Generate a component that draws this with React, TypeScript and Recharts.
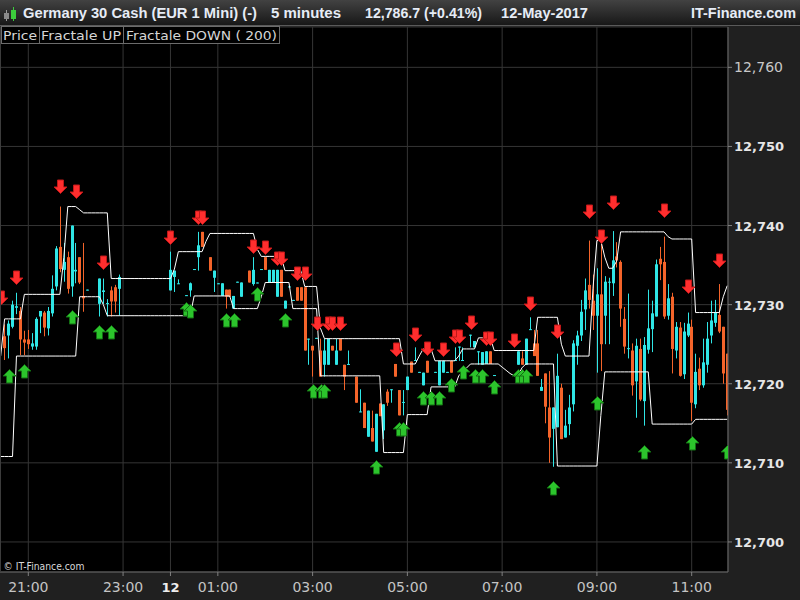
import React from 'react'
import { Bar, CartesianGrid, ComposedChart, Line, Scatter, XAxis, YAxis } from 'recharts'

const FONT = '"DejaVu Sans", Verdana, sans-serif'
const TITLE_FONT = '"Liberation Sans", Arial, sans-serif'

// bar index 0 = 20:25, one bar per 5 minutes
const BAR_DOMAIN: [number, number] = [-0.17, 184.2]
const PRICE_DOMAIN: [number, number] = [12696.2, 12765.1]

const timeTicks = [7, 31, 43, 55, 79, 103, 127, 151, 175]
const timeLabels = ['21:00', '23:00', '12', '01:00', '03:00', '05:00', '07:00', '09:00', '11:00']
const priceTicks = [12700, 12710, 12720, 12730, 12740, 12750, 12760]

// bars that traded (the night has holes)
const candleIdx = [
  1, 2, 3, 4, 5, 6, 7, 8, 9, 10,
  11, 12, 13, 14, 15, 16, 17, 18, 19, 20,
  21, 22, 25, 26, 27, 28, 29, 30, 43, 44,
  45, 47, 48, 49, 50, 51, 53, 54, 55, 56,
  57, 58, 59, 60, 61, 63, 64, 65, 66, 67,
  68, 69, 70, 71, 72, 73, 74, 75, 76, 77,
  78, 79, 80, 81, 82, 83, 84, 85, 86, 87,
  88, 90, 91, 92, 93, 94, 95, 96, 97, 98,
  99, 100, 101, 102, 103, 104, 105, 106, 107, 108,
  110, 111, 112, 113, 114, 115, 116, 117, 119, 120,
  121, 122, 123, 124, 125, 131, 132, 133, 134, 135,
  136, 137, 138, 139, 140, 141, 142, 143, 144, 145,
  146, 147, 148, 149, 150, 151, 152, 153, 154, 155,
  156, 157, 158, 159, 160, 161, 162, 163, 164, 165,
  166, 167, 168, 169, 170, 171, 172, 173, 174, 175,
  176, 177, 178, 179, 180, 181, 182, 183, 184,
]

const opens = [
  12726, 12726.1, 12727.2, 12729.6, 12729.2, 12725.6, 12725.6, 12724.7, 12724.7, 12728.5,
  12729, 12727, 12728.9, 12732.3, 12737.3, 12734.4, 12736, 12732.3, 12734.2, 12736,
  12731.1, 12731.8, 12730.1, 12731.6, 12730.1, 12731.8, 12732.2, 12732, 12731.8, 12733.5,
  12732.6, 12731.1, 12731.8, 12734.4, 12736, 12739.2, 12736, 12733.4, 12732.6, 12731.1,
  12731.9, 12731.9, 12729.5, 12732.8, 12731, 12734.3, 12732.6, 12732.7, 12734.4, 12736,
  12732.8, 12732.8, 12731, 12734.4, 12729.5, 12732.2, 12730.5, 12732.2, 12732.2, 12732.2,
  12725.6, 12724.8, 12725.7, 12724.2, 12722.4, 12722.4, 12724.8, 12722.4, 12725.7, 12722.4,
  12722.4, 12720.9, 12716.4, 12717.6, 12713.3, 12714.4, 12711.4, 12717.5, 12714.1, 12719,
  12719.2, 12722.5, 12719.2, 12717.6, 12719.2, 12722.8, 12722.9, 12721.4, 12719.8, 12722.9,
  12721.4, 12719.8, 12721.4, 12721.4, 12722.9, 12722.9, 12724.6, 12722.9, 12726.1, 12724.6,
  12724, 12722.4, 12722.5, 12724.1, 12721, 12722.4, 12723.2, 12722.4, 12726.8, 12725.1,
  12725.1, 12719.1, 12721.3, 12717, 12714.3, 12714.5, 12719.5, 12713.2, 12714.9, 12717.4,
  12724.8, 12726.1, 12729.4, 12732.5, 12730.5, 12728.6, 12731.3, 12728.6, 12732.8, 12732.7,
  12736.1, 12735.4, 12728.2, 12724.4, 12724.2, 12720.3, 12724.4, 12717.8, 12724.3, 12726.9,
  12728.5, 12735.8, 12735.4, 12728.6, 12731, 12724.2, 12727.1, 12721.2, 12726.1, 12727.2,
  12717.4, 12721.9, 12719.8, 12722.4, 12726.1, 12727.7, 12728.7, 12727.2, 12723.8,
]

const highs = [
  12727.5, 12728, 12730.5, 12731.5, 12729.7, 12726.7, 12726.8, 12726.4, 12728.4, 12729.2,
  12729.2, 12729.7, 12733.7, 12737.4, 12742.4, 12737.8, 12736.7, 12740, 12737.8, 12736,
  12737.8, 12731.8, 12733.3, 12733.3, 12730.7, 12732.3, 12732.5, 12733.8, 12736.7, 12734.3,
  12733.2, 12731.1, 12732.8, 12734.4, 12739.2, 12739.2, 12736, 12734.3, 12732.6, 12732.7,
  12731.9, 12731.9, 12731.1, 12732.8, 12732.8, 12734.3, 12736, 12732.7, 12734.4, 12736,
  12734.4, 12734.4, 12734.4, 12734.4, 12730.5, 12732.2, 12730.5, 12732.2, 12732.2, 12732.2,
  12725.7, 12724.8, 12725.7, 12725.7, 12725.7, 12725.7, 12724.8, 12725.7, 12725.7, 12722.4,
  12724.2, 12720.9, 12719.3, 12717.6, 12716.6, 12716.6, 12716.2, 12717.5, 12717.4, 12719.3,
  12719.2, 12722.5, 12719.2, 12719.2, 12720.9, 12722.8, 12724.6, 12721.4, 12721.4, 12722.9,
  12721.4, 12722.9, 12722.9, 12721.4, 12722.9, 12724.6, 12724.6, 12724.6, 12726.1, 12725.4,
  12724, 12724, 12724.1, 12724.1, 12721, 12724.1, 12724.1, 12725.7, 12728.4, 12726.8,
  12726.8, 12720.6, 12721.3, 12721.6, 12717, 12723.8, 12720, 12716.7, 12718.6, 12725.5,
  12726.7, 12730.6, 12733.3, 12738.1, 12733.8, 12734.6, 12738.1, 12733.6, 12733.4, 12739.3,
  12737.9, 12735.6, 12729.7, 12731.4, 12725.1, 12725.7, 12725.7, 12725.9, 12731.9, 12730.5,
  12735.7, 12737.3, 12738.6, 12732.6, 12731.5, 12727.8, 12727.8, 12727.7, 12729, 12728.1,
  12723.8, 12723.3, 12725.7, 12727.8, 12730.5, 12730.6, 12732.6, 12727.2, 12723.8,
]

const lows = [
  12723, 12723.2, 12727, 12728.8, 12723.6, 12723.6, 12724.4, 12724.3, 12724.3, 12726.4,
  12726, 12726.1, 12728.5, 12731.8, 12734.1, 12732.9, 12731.4, 12731, 12732.7, 12732.6,
  12729.1, 12731.8, 12728.5, 12730.1, 12728.5, 12728.5, 12729, 12728.6, 12731.8, 12731.6,
  12732.6, 12731.1, 12731, 12734.4, 12734.3, 12737.3, 12734.3, 12731.6, 12732.6, 12731.1,
  12729.5, 12731, 12729.5, 12732.8, 12731, 12732.8, 12732.4, 12732.7, 12734.4, 12734.4,
  12732.8, 12732.8, 12731, 12731, 12729.5, 12732.2, 12730.5, 12730.5, 12730.5, 12724.2,
  12722.4, 12720.9, 12725.7, 12720.9, 12720.9, 12722.4, 12724.2, 12722.4, 12724.2, 12719.2,
  12722.4, 12717.6, 12716.4, 12714.4, 12713.3, 12712.7, 12711.4, 12715.9, 12713, 12717.2,
  12717.6, 12720.9, 12716, 12716, 12719.2, 12721.4, 12722.9, 12721.4, 12719.8, 12721.4,
  12721.4, 12719.8, 12721.4, 12721.4, 12721.4, 12722.9, 12722.9, 12722.9, 12724.6, 12724.6,
  12722.4, 12722.4, 12722.5, 12722.5, 12721, 12722.4, 12722.4, 12722.4, 12726.8, 12723.5,
  12721, 12719.1, 12715, 12710, 12709.5, 12714.5, 12713, 12713.2, 12713.5, 12716.5,
  12722.4, 12725.4, 12726.8, 12729.5, 12726.8, 12721.4, 12721.6, 12725, 12725, 12731.1,
  12734.7, 12727.2, 12723.8, 12723.2, 12718.5, 12715.7, 12717.8, 12714.7, 12723.8, 12724,
  12728.5, 12733.1, 12728.2, 12728.1, 12721.3, 12723.2, 12720.9, 12720.6, 12725.9, 12715.3,
  12716.9, 12719.2, 12719.5, 12721.4, 12725.1, 12727.2, 12726.4, 12720, 12716,
]

const closes = [
  12724.5, 12727.6, 12730, 12729.8, 12725.6, 12725.2, 12725, 12725.1, 12728.2, 12729.2,
  12727.1, 12729.2, 12732, 12737.1, 12734.5, 12735.4, 12732, 12740, 12734.4, 12732.8,
  12730.8, 12731.9, 12733.3, 12731.8, 12730.2, 12730.4, 12730.4, 12733.5, 12734.4, 12734.3,
  12732.7, 12731.2, 12732.7, 12734.5, 12737.5, 12737.3, 12734.3, 12734.3, 12732.7, 12732.7,
  12731, 12731, 12731.1, 12732.9, 12732.8, 12732.8, 12734.4, 12732.8, 12734.5, 12734.4,
  12734.4, 12734.4, 12734.4, 12731, 12730.5, 12732.3, 12730.6, 12730.5, 12730.5, 12724.2,
  12725.7, 12724.2, 12725.8, 12720.9, 12724.2, 12725.7, 12724.2, 12724.2, 12724.2, 12720.9,
  12722.5, 12717.6, 12716.5, 12714.4, 12716.6, 12712.7, 12716.2, 12715.9, 12717.4, 12717.6,
  12719.3, 12720.9, 12716, 12717.7, 12720.9, 12721.4, 12723, 12721.5, 12721.4, 12721.4,
  12721.5, 12722.9, 12722.9, 12721.5, 12721.4, 12723, 12724.7, 12723, 12726.2, 12725.4,
  12724.1, 12724, 12724.1, 12722.5, 12721.1, 12724.1, 12722.4, 12725.7, 12726.9, 12723.5,
  12721, 12719.6, 12717.1, 12713.2, 12717, 12721, 12713, 12714.7, 12717, 12725.1,
  12726.1, 12729.1, 12731.8, 12730.6, 12728.6, 12731.3, 12725, 12732.9, 12732.9, 12735.6,
  12735.6, 12729.5, 12724.7, 12724.5, 12719.8, 12724.8, 12718, 12724.9, 12727, 12728.9,
  12735.1, 12735.1, 12728.5, 12730.8, 12724.4, 12727.2, 12721, 12726.6, 12727.6, 12717.6,
  12721.5, 12719.8, 12722.7, 12725.7, 12728, 12729, 12726.6, 12721.3, 12716.7,
]

// "Fractale UP" / "Fractale DOWN ( 200)" envelopes, one value per bar 0..184
const upperBand = [
  12723.5, 12728.2, 12728.2, 12728.2, 12728.2, 12728.2, 12731.3, 12731.3, 12731.3, 12731.3,
  12731.3, 12731.3, 12731.3, 12731.3, 12731.3, 12731.3, 12736, 12742.4, 12742.4, 12742.4,
  12742, 12741.6, 12741.6, 12741.6, 12741.6, 12741.6, 12741.6, 12741.6, 12733.3, 12733.3,
  12733.3, 12733.3, 12733.3, 12733.3, 12733.3, 12733.3, 12733.3, 12733.3, 12733.3, 12733.3,
  12733.3, 12733.3, 12733.3, 12733.3, 12734.5, 12736.7, 12736.7, 12736.7, 12736.7, 12736.7,
  12736.7, 12736.7, 12738, 12739, 12739, 12739, 12739, 12739, 12739, 12739,
  12739, 12739, 12739, 12739, 12739, 12737, 12736.1, 12736.1, 12736.1, 12736.1,
  12736.1, 12736.1, 12734.3, 12734.3, 12734.3, 12734.3, 12734.3, 12732.3, 12732.3, 12732.3,
  12732.3, 12727, 12725.7, 12725.7, 12725.7, 12725.7, 12725.7, 12725.7, 12725.7, 12725.7,
  12725.7, 12725.7, 12725.7, 12725.7, 12725.7, 12725.7, 12725.7, 12725.7, 12725.7, 12725.7,
  12725.7, 12725.7, 12722.5, 12722.5, 12722.5, 12722.5, 12723.5, 12724.4, 12724.4, 12724.4,
  12722.9, 12722.9, 12722.9, 12722.9, 12722.9, 12722.9, 12723.5, 12724.4, 12724.4, 12724.4,
  12724.4, 12725.8, 12725.8, 12725.8, 12725.8, 12724.2, 12724.2, 12724.2, 12724.2, 12724.2,
  12724.2, 12724.2, 12724.2, 12724.2, 12724.2, 12724.2, 12728.4, 12728.4, 12728.4, 12728.4,
  12728.4, 12728.4, 12725, 12723.5, 12723.5, 12723.5, 12723.5, 12723.5, 12723.5, 12723.5,
  12732, 12738.1, 12738.1, 12736, 12734.6, 12734.6, 12735.5, 12739.2, 12739.2, 12739.2,
  12739.2, 12739.2, 12739.2, 12739.2, 12739.2, 12739.2, 12739.2, 12739.2, 12739.2, 12738.6,
  12738.3, 12738.3, 12738.3, 12738.3, 12738.3, 12738.3, 12729, 12729, 12729, 12729,
  12729, 12729, 12729, 12731, 12732.4,
]

const lowerBand = [
  12710.8, 12710.8, 12710.8, 12710.8, 12723.5, 12723.5, 12723.5, 12723.5, 12723.5, 12723.5,
  12723.5, 12723.5, 12723.5, 12723.5, 12723.5, 12723.5, 12723.5, 12723.5, 12723.5, 12723.5,
  12731, 12731, 12731, 12731, 12731, 12731, 12730, 12728.6, 12728.6, 12728.6,
  12728.6, 12728.6, 12728.6, 12728.6, 12728.6, 12728.6, 12728.6, 12728.6, 12728.6, 12728.6,
  12728.6, 12728.6, 12728.6, 12728.6, 12728.6, 12728.6, 12728.6, 12728.6, 12728.6, 12731.1,
  12731.1, 12731.1, 12731.1, 12731.1, 12731.1, 12731.1, 12731.1, 12731.1, 12731.1, 12729.5,
  12729.5, 12729.5, 12729.5, 12729.5, 12729.5, 12729.5, 12731, 12732.8, 12732.8, 12732.8,
  12732.8, 12732.8, 12732.8, 12732.8, 12729.5, 12729.5, 12729.5, 12729.5, 12729.5, 12729.5,
  12729.5, 12721, 12721, 12721, 12721, 12721, 12721, 12721, 12721, 12721,
  12721, 12721, 12721, 12721, 12721, 12721, 12721, 12711.3, 12711.3, 12711.3,
  12711.3, 12711.3, 12711.3, 12716.1, 12716.1, 12716.1, 12716.1, 12716.1, 12716.1, 12719.6,
  12719.6, 12719.6, 12719.6, 12719.6, 12719.6, 12719.6, 12721, 12721.5, 12722, 12722.5,
  12722.5, 12722.5, 12722.5, 12722.5, 12722.5, 12722.5, 12722.5, 12722.1, 12721.7, 12721.3,
  12721, 12721, 12722, 12722.5, 12722.5, 12722.5, 12722.5, 12722.5, 12722.5, 12722.5,
  12722.5, 12709.6, 12709.6, 12709.6, 12709.6, 12709.6, 12709.6, 12709.6, 12709.6, 12709.6,
  12709.6, 12709.6, 12716, 12721.5, 12721.5, 12721.5, 12721.5, 12721.5, 12721.5, 12721.5,
  12721.5, 12721.5, 12721.5, 12721.5, 12721.5, 12714.9, 12714.9, 12714.9, 12714.9, 12714.9,
  12714.9, 12714.9, 12714.9, 12714.9, 12714.9, 12714.9, 12715.5, 12715.5, 12715.5, 12715.5,
  12715.5, 12715.5, 12715.5, 12715.5, 12715.5,
]

// fractal marks: red arrows over highs, green arrows under lows
const fracHighIdx = [0, 4, 15, 19, 26, 43, 50, 51, 64, 67, 70, 71, 75, 77, 80, 83, 84, 86, 100, 105, 108, 112, 115, 116, 119, 123, 124, 130, 134, 141, 149, 152, 155, 168, 174, 182]
const fracHighPrice = [
  12730.8, 12733.4, 12744.9, 12744.3, 12735.3, 12738.4, 12740.9, 12740.9, 12737.3, 12737.2,
  12735.8, 12735.8, 12733.9, 12733.9, 12727.6, 12727.6, 12727.6, 12727.6, 12724.3, 12726.1,
  12724.4, 12724.3, 12725.9, 12725.9, 12727.7, 12725.6, 12725.6, 12725.4, 12730.1, 12726.5,
  12741.7, 12738.5, 12742.9, 12741.9, 12732.2, 12735.5,
]
const fracLowIdx = [2, 6, 18, 25, 28, 47, 48, 57, 59, 65, 72, 79, 81, 82, 95, 101, 102, 107, 109, 111, 114, 117, 120, 122, 125, 131, 132, 133, 140, 151, 163, 175, 184]
const fracLowPrice = [
  12721, 12721.6, 12728.4, 12726.5, 12726.6, 12729.5, 12729.2, 12728.1, 12728.1, 12731.3,
  12728, 12719.1, 12719.1, 12719.1, 12709.5, 12714.3, 12714.3, 12718.2, 12718.2, 12718.2,
  12719.9, 12721.5, 12721, 12721, 12719.6, 12721, 12721, 12721, 12706.8, 12717.6,
  12711.4, 12712.5, 12711.4,
]

const rows: any[] = upperBand.map((u, k) => ({ k, upper: u, lower: lowerBand[k] }))
candleIdx.forEach((k, i) => {
  const o = opens[i]
  const c = closes[i]
  const hi = Math.max(highs[i], o, c)
  const lo = Math.min(lows[i], o, c)
  rows[k] = { ...rows[k], o, c, hi, lo, range: [lo, hi] }
})
const highMarks = fracHighIdx.map((k, i) => ({ k, p: fracHighPrice[i] }))
const lowMarks = fracLowIdx.map((k, i) => ({ k, p: fracLowPrice[i] }))

const UP = '#2fe6e6'
const DOWN = '#f4642a'

function Candle(props: any) {
  const { x, y, width, height, payload } = props
  if (!payload || payload.o == null || height == null || isNaN(y)) return <g />
  const top = height < 0 ? y + height : y
  const h = Math.abs(height)
  const { o, c, hi, lo } = payload
  const unit = h / (hi - lo)
  const toY = (v: number) => top + (hi - v) * unit
  const cx = Math.round(x + width / 2)
  const color = c >= o ? UP : DOWN
  const bTop = toY(Math.max(o, c))
  const bH = Math.max(1, toY(Math.min(o, c)) - bTop)
  return (
    <g>
      <line x1={cx + 0.5} x2={cx + 0.5} y1={top} y2={top + h} stroke={color} strokeWidth={1} />
      <rect x={cx - 1} y={bTop} width={3} height={bH} fill={color} />
    </g>
  )
}

function arrowPath(cx: number, cy: number, pts: number[][]) {
  const x = Math.round(cx) + 0.5
  const y = Math.round(cy)
  return pts.map(([dx, dy]) => `${x + dx},${y + dy}`).join(' ')
}

function DownArrow(props: any) {
  const { cx, cy } = props
  if (cx == null || cy == null || isNaN(cy)) return <g />
  const pts = [[-3, -7], [3, -7], [3, 0], [6.5, 0], [0, 6.5], [-6.5, 0], [-3, 0]]
  return <polygon points={arrowPath(cx, cy, pts)} fill="#ff2e2e" stroke="#c01818" strokeWidth={1} />
}

function UpArrow(props: any) {
  const { cx, cy } = props
  if (cx == null || cy == null || isNaN(cy)) return <g />
  const pts = [[0, -6.5], [6.5, 0], [3, 0], [3, 7], [-3, 7], [-3, 0], [-6.5, 0]]
  return <polygon points={arrowPath(cx, cy, pts)} fill="#2cc42c" stroke="#136e13" strokeWidth={1} />
}

function TimeTick(props: any) {
  const { x, y, payload } = props
  const label = timeLabels[timeTicks.indexOf(payload.value)] ?? ''
  const bold = label === '12'
  return (
    <text x={x} y={y} dy={14} textAnchor="middle" fill={bold ? '#ededed' : '#c4c4c4'}
      fontSize={bold ? 13 : 14} fontWeight={bold ? 700 : 400} fontFamily={FONT}>
      {label}
    </text>
  )
}

function PriceTick(props: any) {
  const { x, y, payload } = props
  const v: number = payload.value
  const bold = v !== 12760
  return (
    <text x={x} y={y} dy={5} textAnchor="start" fill={bold ? '#e6e6e6' : '#c8c8c8'}
      fontSize={bold ? 13 : 14} fontWeight={bold ? 700 : 400} fontFamily={FONT}>
      {v.toLocaleString('en-US')}
    </text>
  )
}

function Header() {
  const title = '#e6ecf6'
  return (
    <svg width={800} height={600} style={{ position: 'absolute', left: 0, top: 0, pointerEvents: 'none' }}>
      <defs>
        <linearGradient id="bar" x1="0" y1="0" x2="0" y2="1">
          <stop offset="0" stopColor="#424242" />
          <stop offset="1" stopColor="#161616" />
        </linearGradient>
      </defs>
      <rect x={0} y={0} width={800} height={26} fill="url(#bar)" />
      <line x1={0} x2={800} y1={25.5} y2={25.5} stroke="#5a5a5a" />
      {/* little candle icon */}
      <line x1={6.5} x2={6.5} y1={10} y2={21} stroke="#9a9a9a" />
      <rect x={4} y={13} width={5} height={6} fill="#8a8a8a" />
      <line x1={13.5} x2={13.5} y1={7} y2={21} stroke="#3ccc3c" />
      <rect x={11} y={10} width={5} height={9} fill="#3ccc3c" />
      <g fontFamily={TITLE_FONT} fontWeight={700} fontSize={14} fill={title}>
        <text x={23} y={18} textLength={234} lengthAdjust="spacingAndGlyphs">Germany 30 Cash (EUR 1 Mini) (-)</text>
        <text x={271} y={18} textLength={70} lengthAdjust="spacingAndGlyphs">5 minutes</text>
        <text x={365} y={18} textLength={117} lengthAdjust="spacingAndGlyphs">12,786.7 (+0.41%)</text>
        <text x={501} y={18} textLength={87} lengthAdjust="spacingAndGlyphs">12-May-2017</text>
        <text x={691} y={18} textLength={105} lengthAdjust="spacingAndGlyphs">IT-Finance.com</text>
      </g>
      <g fontFamily={FONT} fontSize={12.5} fill="#d6d6d6" stroke="none">
        <rect x={1.5} y={26.5} width={38} height={17} fill="#000" stroke="#6c6c6c" />
        <rect x={39.5} y={26.5} width={84} height={17} fill="#000" stroke="#6c6c6c" />
        <rect x={123.5} y={26.5} width={156} height={17} fill="#000" stroke="#6c6c6c" />
        <text x={3} y={40} textLength={34} lengthAdjust="spacingAndGlyphs">Price</text>
        <text x={41} y={40} textLength={80} lengthAdjust="spacingAndGlyphs">Fractale UP</text>
        <text x={126} y={40} textLength={151} lengthAdjust="spacingAndGlyphs">Fractale DOWN ( 200)</text>
      </g>
      <line x1={0.5} x2={0.5} y1={27} y2={572} stroke="#3c3c3c" />
      <text x={3.5} y={569.5} fontFamily={FONT} fontSize={11} fill="#d8d8d8" textLength={81} lengthAdjust="spacingAndGlyphs">
        © IT-Finance.com
      </text>
    </svg>
  )
}

export default function App() {
  return (
    <div style={{ position: 'absolute', left: 0, top: 0, width: 800, height: 600, background: '#202020', overflow: 'hidden' }}>
      <ComposedChart width={800} height={600} data={rows} margin={{ top: 27, right: 0, bottom: 0, left: 0 }}>
        <CartesianGrid stroke="#353535" fill="#000" />
        <XAxis type="number" dataKey="k" domain={BAR_DOMAIN} ticks={timeTicks} allowDataOverflow interval={0}
          height={28} tickSize={4} tick={<TimeTick />} tickLine={{ stroke: '#808080' }} axisLine={{ stroke: '#666' }} />
        <YAxis orientation="right" type="number" domain={PRICE_DOMAIN} ticks={priceTicks} allowDataOverflow interval={0}
          width={72} tickSize={4} tick={<PriceTick />} tickLine={{ stroke: '#808080' }} axisLine={{ stroke: '#666' }} />
        <Line dataKey="upper" type="linear" stroke="#ffffff" strokeWidth={1} dot={false} isAnimationActive={false} />
        <Line dataKey="lower" type="linear" stroke="#ffffff" strokeWidth={1} dot={false} isAnimationActive={false} />
        <Bar dataKey="range" barSize={4} shape={<Candle />} isAnimationActive={false} />
        <Scatter data={highMarks} dataKey="p" shape={<DownArrow />} isAnimationActive={false} />
        <Scatter data={lowMarks} dataKey="p" shape={<UpArrow />} isAnimationActive={false} />
      </ComposedChart>
      <Header />
    </div>
  )
}
